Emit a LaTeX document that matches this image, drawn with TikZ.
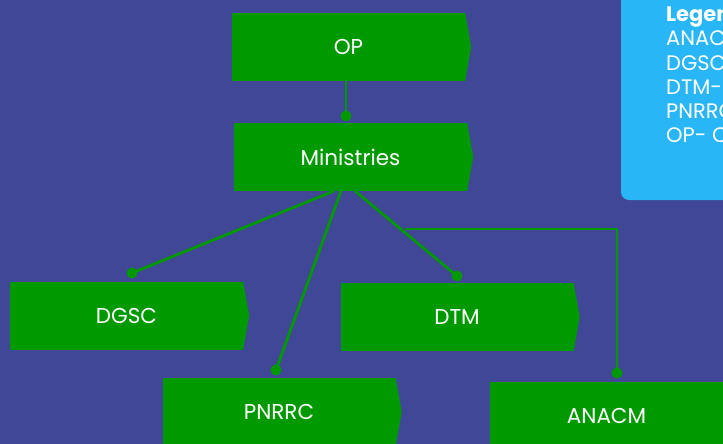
\documentclass[tikz,border=0pt]{standalone}
\usepackage{fontspec}
\setmainfont{Poppins}
\usetikzlibrary{calc}
\definecolor{bg}{RGB}{65,71,151}
\definecolor{gr}{RGB}{0,153,0}
\definecolor{lg}{RGB}{41,182,246}
\tikzset{
  orgbox/.style={rectangle, fill=gr, text=white, minimum width=233pt, minimum height=68pt, inner sep=0pt, font=\fontsize{21.5}{24}\selectfont},
  link/.style={draw=gr, line width=2.8pt},
  jdot/.style={circle, fill=gr, minimum size=11pt, inner sep=0pt},
  legtext/.style={text=white, anchor=north west, inner sep=0pt, align=left, font=\fontsize{21}{24.2}\selectfont}
}
\newcommand{\tipof}[1]{\fill[gr] (#1.north east) -- ([xshift=6pt]#1.east) -- (#1.south east) -- cycle;}
\begin{document}
\begin{tikzpicture}[x=1pt,y=-1pt]
\useasboundingbox (0,0) rectangle (723,444);
\clip (0,0) rectangle (723,444);
\fill[bg] (0,0) rectangle (723,444);
% legend
\fill[lg, rounded corners=8pt] (621,-20) rectangle (780,200);
\node[legtext] (leg) at (666,6) {\textbf{Legend}\\ANACM\\DGSC\\DTM-\\PNRRC\\OP- C};
% boxes
\node[orgbox] (op) at (348.5,47) {OP};
\node[orgbox] (min) at (350.5,157) {Ministries};
\node[orgbox] (dgsc) at (126.5,315.5) {DGSC};
\node[orgbox] (dtm) at (457,317) {DTM};
\node[orgbox] (pnrrc) at (279,412) {PNRRC};
\node[orgbox] (anacm) at (606.5,416) {ANACM};
\tipof{op}\tipof{min}\tipof{dgsc}\tipof{dtm}\tipof{pnrrc}\tipof{anacm}
% junction dots
\node[jdot] (d1) at (346,116) {};
\node[jdot] (d2) at (132,273) {};
\node[jdot] (d3) at (457,276) {};
\node[jdot] (d4) at (276,370) {};
\node[jdot] (d5) at (617,373) {};
\coordinate (m1) at (334,191);
\coordinate (m2) at (341,191);
\coordinate (m3) at (355,191);
\coordinate (e1) at (405,229);
\coordinate (e2) at (617,229);
% connectors
\draw[link] (op.south -| d1) -- (d1.center);
\draw[link] (m1) -- (d2.center);
\draw[link] (m2) -- (d4.center);
\draw[link] (m3) -- (d3.center);
\draw[link] (e1) -- (e2) -- (d5.center);
\end{tikzpicture}
\end{document}
